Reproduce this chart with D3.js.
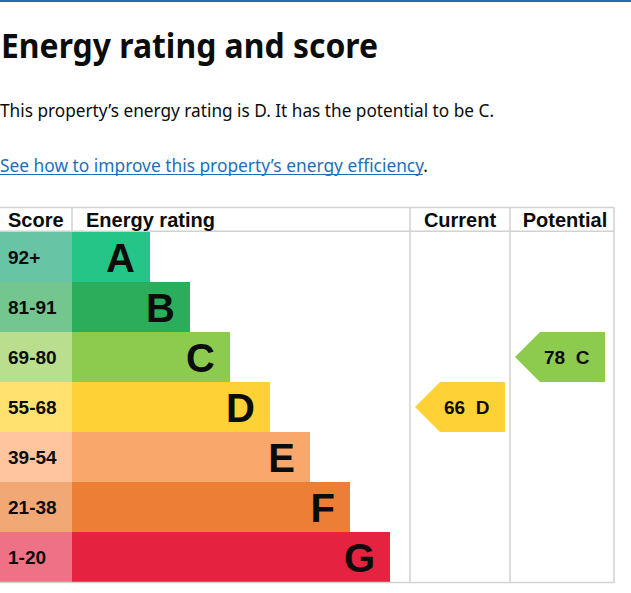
<!DOCTYPE html>
<html>
<head>
<meta charset="utf-8">
<script src="https://cdn.jsdelivr.net/npm/d3@7"></script>
<style>
  html, body { margin: 0; padding: 0; background: #fff; }
  svg { display: block; }
</style>
</head>
<body>
<div id="chart"></div>
<script>
// ---- data ----
const ratings = ["A", "B", "C", "D", "E", "F", "G"];
const scoreRanges = ["92+", "81-91", "69-80", "55-68", "39-54", "21-38", "1-20"];
const headers = ["Score", "Energy rating", "Current", "Potential"];
const currentScore = 66;
const currentRating = "D";
const potentialScore = 78;
const potentialRating = "C";
const titleText = "Energy rating and score";
const summaryText = "This property\u2019s energy rating is D. It has the potential to be C.";
const linkText = "See how to improve this property\u2019s energy efficiency";

// ---- styles ----
const barPalette = ["#24c586", "#2bae5c", "#8dcb4f", "#fed137", "#f9a76b", "#ec7e35", "#e52240"];
const scorePalette = ["#67c4a5", "#73c68d", "#b8de8e", "#fee16f", "#ffc59f", "#f1a874", "#ef7186"];
const ink = "#0b0c0c";
const govBlue = "#1d70b8";
const grid = "#d2d2d2";

const W = 631, H = 593;
const svg = d3.select("#chart").append("svg").attr("width", W).attr("height", H);

// top rule
svg.append("rect").attr("x", 0).attr("y", 0).attr("width", W).attr("height", 2).attr("fill", govBlue);

// title / text
const uiFont = "'Noto Sans', 'Open Sans', sans-serif";
svg.append("text").attr("x", 1).attr("y", 58.3)
  .attr("font-family", uiFont).attr("font-weight", 700).attr("font-size", 34.5)
  .attr("fill", ink).attr("textLength", 377).attr("lengthAdjust", "spacingAndGlyphs")
  .text(titleText);
svg.append("text").attr("x", 0).attr("y", 116.7)
  .attr("font-family", uiFont).attr("font-size", 18.5)
  .attr("fill", ink).attr("textLength", 494).attr("lengthAdjust", "spacingAndGlyphs")
  .text(summaryText);
const link = svg.append("text").attr("x", 0).attr("y", 171.5)
  .attr("font-family", uiFont).attr("font-size", 18.5)
  .attr("textLength", 428).attr("lengthAdjust", "spacingAndGlyphs");
link.append("tspan").attr("fill", govBlue).text(linkText);
link.append("tspan").attr("fill", ink).text(".");
svg.append("line").attr("x1", 0).attr("x2", 423).attr("y1", 174.5).attr("y2", 174.5)
  .attr("stroke", govBlue).attr("stroke-width", 1);

// ---- table scales ----
const tableFont = "'Liberation Sans', Arial, Helvetica, sans-serif";
const tableTop = 207.5, headerBottom = 232, tableBottom = 582;
const y = d3.scaleBand().domain(ratings).range([headerBottom, tableBottom]).padding(0);
const barX = d3.scaleLinear().domain([0, ratings.length - 1]).range([150, 390]);
const scoreColX = 0, barStartX = 72;
const colX = { current: 410, potential: 510, right: 614 };

const color = d3.scaleOrdinal().domain(ratings).range(barPalette);
const tint = d3.scaleOrdinal().domain(ratings).range(scorePalette);

// score tint cells and bars
const rows = svg.append("g").selectAll("g").data(ratings).join("g");
rows.append("rect")
  .attr("x", scoreColX).attr("y", d => y(d))
  .attr("width", barStartX - scoreColX).attr("height", y.bandwidth())
  .attr("fill", d => tint(d));
rows.append("rect")
  .attr("x", barStartX).attr("y", d => y(d))
  .attr("width", (d, i) => barX(i) - barStartX).attr("height", y.bandwidth())
  .attr("fill", d => color(d));
rows.append("text")
  .attr("x", 8).attr("y", d => y(d) + y.bandwidth() / 2 + 7)
  .attr("font-family", tableFont).attr("font-weight", 700).attr("font-size", 19)
  .attr("fill", ink)
  .text((d, i) => scoreRanges[i]);
rows.append("text")
  .attr("x", (d, i) => barX(i) - 15).attr("y", d => y(d) + y.bandwidth() / 2 + 14.5)
  .attr("text-anchor", "end")
  .attr("font-family", tableFont).attr("font-weight", 700).attr("font-size", 40)
  .attr("fill", ink)
  .text(d => d);

// grid lines
const g = svg.append("g").attr("stroke", grid).attr("stroke-width", 1.5).attr("fill", "none");
g.append("line").attr("x1", 0).attr("x2", colX.right).attr("y1", tableTop).attr("y2", tableTop);
g.append("line").attr("x1", 0).attr("x2", colX.right).attr("y1", headerBottom - 0.75).attr("y2", headerBottom - 0.75);
g.append("line").attr("x1", 0).attr("x2", colX.right).attr("y1", tableBottom + 0.5).attr("y2", tableBottom + 0.5);
g.append("line").attr("x1", barStartX).attr("x2", barStartX).attr("y1", tableTop).attr("y2", headerBottom);
[colX.current, colX.potential, colX.right].forEach(x => {
  g.append("line").attr("x1", x).attr("x2", x).attr("y1", tableTop).attr("y2", tableBottom + 1);
});

// headers
const headerPos = [
  { x: 8, anchor: "start" },
  { x: 86, anchor: "start" },
  { x: 460, anchor: "middle" },
  { x: 565, anchor: "middle" }
];
svg.append("g").selectAll("text").data(headers).join("text")
  .attr("x", (d, i) => headerPos[i].x).attr("y", 226.5)
  .attr("text-anchor", (d, i) => headerPos[i].anchor)
  .attr("font-family", tableFont).attr("font-weight", 700).attr("font-size", 20)
  .attr("fill", ink)
  .text(d => d);

// arrows
const arrows = [
  { score: currentScore, rating: currentRating, left: colX.current },
  { score: potentialScore, rating: potentialRating, left: colX.potential }
];
const ag = svg.append("g").selectAll("g").data(arrows).join("g");
ag.append("path")
  .attr("d", d => {
    const top = y(d.rating), h = y.bandwidth(), tip = d.left + 5, right = d.left + 95;
    return d3.line()([[tip, top + h / 2], [tip + h / 2, top], [right, top], [right, top + h], [tip + h / 2, top + h]]) + "Z";
  })
  .attr("fill", d => color(d.rating));
ag.append("text")
  .attr("x", d => d.left + 34).attr("y", d => y(d.rating) + y.bandwidth() / 2 + 6.8)
  .attr("font-family", tableFont).attr("font-weight", 700).attr("font-size", 19)
  .attr("fill", ink).attr("xml:space", "preserve")
  .style("white-space", "pre")
  .text(d => d.score + "  " + d.rating);
</script>
</body>
</html>
